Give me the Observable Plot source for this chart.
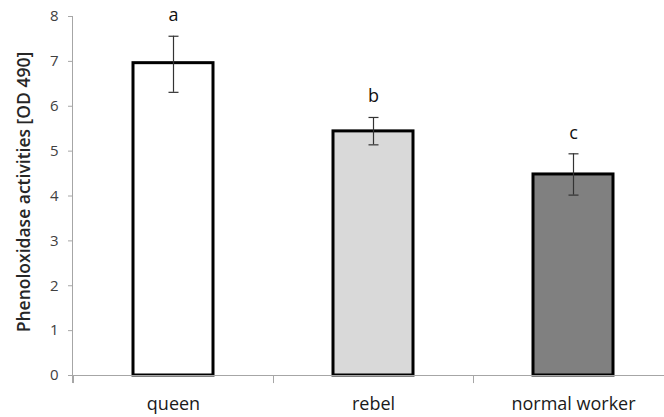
<!DOCTYPE html>
<html>
<head>
<meta charset="utf-8">
<script src="https://cdn.jsdelivr.net/npm/d3@7"></script>
<script src="https://cdn.jsdelivr.net/npm/@observablehq/plot@0.6"></script>
<style>
  html, body { margin: 0; padding: 0; background: #fff; }
  #chart { width: 664px; height: 417px; }
</style>
</head>
<body>
<div id="chart"></div>
<script>
const categories = ["queen", "rebel", "normal worker"];
const means = [6.96, 5.44, 4.48];
const errLow = [6.31, 5.14, 4.02];
const errHigh = [7.56, 5.75, 4.94];
const letters = ["a", "b", "c"];
const fills = ["#ffffff", "#d9d9d9", "#808080"];
const yTicks = [0, 1, 2, 3, 4, 5, 6, 7, 8];

const data = categories.map((c, i) => ({
  cat: c, mean: means[i], lo: errLow[i], hi: errHigh[i], letter: letters[i], fill: fills[i]
}));

const font = "Open Sans, Lato, sans-serif";

// horizontal cap symbol for error bars
const capSymbol = {
  draw(ctx, size) {
    const r = Math.sqrt(size / Math.PI);
    ctx.moveTo(-r, 0);
    ctx.lineTo(r, 0);
  }
};

const chart = Plot.plot({
  width: 664,
  height: 417,
  marginTop: 16,
  marginBottom: 42,
  marginLeft: 73,
  marginRight: 0,
  style: { fontFamily: font, fontSize: "15px", color: "#404040", background: "#fff" },
  x: { domain: categories, range: [73, 673], paddingInner: 0.6, paddingOuter: 0.3, label: null },
  y: { domain: [0, 8], label: null },
  marks: [
    Plot.barY(data, { x: "cat", y: "mean", fill: "fill", stroke: "#000", strokeWidth: 3 }),
    Plot.ruleX(data, { x: "cat", y1: "lo", y2: "hi", stroke: "#333", strokeWidth: 1.2 }),
    Plot.dot(data, { x: "cat", y: "lo", symbol: capSymbol, r: 5, fill: "none", stroke: "#333", strokeWidth: 1.2 }),
    Plot.dot(data, { x: "cat", y: "hi", symbol: capSymbol, r: 5, fill: "none", stroke: "#333", strokeWidth: 1.2 }),
    Plot.text(data, { x: "cat", y: "hi", text: "letter", dy: -21, fill: "#111", fontSize: 18 }),
    Plot.ruleY([0], { stroke: "#a6a6a6", strokeWidth: 1 }),
    Plot.ruleX(data, { x: "cat", y1: 0, y2: -0.18, dx: -100, stroke: "#a6a6a6", strokeWidth: 1 }),
    Plot.axisY({
      ticks: yTicks, tickSize: 5, tickPadding: 10, stroke: "#a6a6a6", fill: "#404040", fontSize: 15, label: null
    }),
    Plot.axisX({ tickSize: 0, tickPadding: 22, fill: "#1a1a1a", fontSize: 18, label: null })
  ]
});

document.getElementById("chart").appendChild(chart);

const svg = d3.select(chart);
svg.append("line")
  .attr("x1", 72.5).attr("x2", 72.5).attr("y1", 16).attr("y2", 383)
  .attr("stroke", "#a6a6a6");
svg.append("text")
  .attr("transform", "translate(25,192) rotate(-90)")
  .attr("text-anchor", "middle")
  .attr("dominant-baseline", "middle")
  .attr("font-family", font)
  .attr("font-size", 17.5)
  .attr("font-weight", 600)
  .attr("fill", "#262626")
  .text("Phenoloxidase activities [OD 490]");
</script>
</body>
</html>
